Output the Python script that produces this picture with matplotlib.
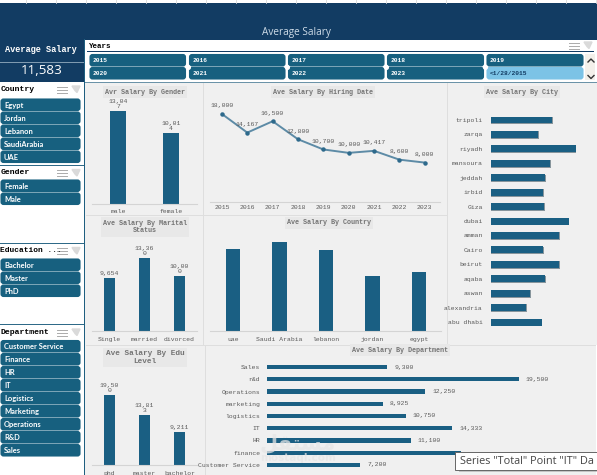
import matplotlib
matplotlib.use("Agg")
import matplotlib.pyplot as plt
from matplotlib.patches import FancyBboxPatch, Rectangle

W, H = 597, 475

years = ["2015", "2016", "2017", "2018", "2019", "2020", "2021", "2022", "2023", "<1/28/2015"]
countries = ["Egypt", "Jordan", "Lebanon", "SaudiArabia", "UAE"]
genders = ["Female", "Male"]
edu_levels = ["Bachelor", "Master", "PhD"]
departments = ["Customer Service", "Finance", "HR", "IT", "Logistics", "Marketing", "Operations", "R&D", "Sales"]

gender_names = ["male", "female"]
gender_vals = [13047, 10014]
gender_lbls = ["13,04\n7", "10,01\n4"]

hire_years = ["2015", "2016", "2017", "2018", "2019", "2020", "2021", "2022", "2023"]
hire_vals = [18000, 14167, 16500, 12800, 10700, 10000, 10417, 8600, 8000]

city_names = ["tripoli", "zarqa", "riyadh", "mansoura", "jeddah", "irbid", "Giza", "dubai", "amman",
              "Cairo", "beirut", "aqaba", "aswan", "alexandria", "abu dhabi"]
city_vals = [12080, 9300, 16730, 11700, 10700, 10300, 10500, 15350, 13500, 10300, 13500, 10700, 7700, 6900, 10000]

marital_names = ["Single", "married", "divorced"]
marital_vals = [9654, 13360, 10000]
marital_lbls = ["9,654", "13,36\n0", "10,00\n0"]

country_names = ["uae", "Saudi Arabia", "lebanon", "jordan", "egypt"]
country_vals = [12300, 13350, 12150, 8250, 8850]

edu_names = ["phd", "master", "bachelor"]
edu_vals = [19500, 13813, 9211]
edu_lbls = ["19,50\n0", "13,81\n3", "9,211"]

dept_names = ["Sales", "r&d", "Operations", "marketing", "logistics", "IT", "HR", "finance", "Customer Service"]
dept_vals = [9300, 19500, 12250, 8925, 10750, 14333, 11100, 15000, 7200]
dept_lbls = ["9,300", "19,500", "12,250", "8,925", "10,750", "14,333", "11,100", "", "7,200"]

NAVY = "#123c63"
BTN = "#17607f"
BAR = "#1a5f83"
BG = "#f0f0f0"
GRID = "#dedede"
TXT = "#5a5a5a"
MONO = "Liberation Mono"

plt.rcParams["font.family"] = "DejaVu Sans"
fig = plt.figure(figsize=(W / 100, H / 100), dpi=100, facecolor="white")

# full page layer in pixels, y going down
page = fig.add_axes([0, 0, 1, 1], zorder=0)
page.set_xlim(0, W)
page.set_ylim(H, 0)
page.axis("off")


def rect(x0, y0, x1, y1, color, z=1):
    page.add_patch(Rectangle((x0, y0), x1 - x0, y1 - y0, fc=color, ec="none", zorder=z))


def button(x0, y0, x1, y1, label, color=BTN, tc="white", family="Lato", size=5.4):
    page.add_patch(FancyBboxPatch((x0 + 1.5, y0 + 1), x1 - x0 - 3, y1 - y0 - 2, boxstyle="round,pad=0,rounding_size=2",
                                  mutation_aspect=1, fc=color, ec=color, lw=1.5, zorder=3))
    page.text(x0 + 4, (y0 + y1) / 2 + 0.3, label, color=tc, fontsize=size, family=family, va="center", ha="left",
              zorder=4, fontweight="bold")


def slicer_icons(x, y):
    for dy in (-3, 0, 3):
        page.plot([x - 3, x + 7], [y + dy, y + dy], color="#ababab", lw=0.7, zorder=3)
    page.fill([x + 12, x + 20, x + 17, x + 15], [y - 3.5, y - 3.5, y + 3, y + 1], color="#dadada", zorder=3)


def slicer_head(label, y, x=0.5, size=5.9):
    page.text(x, y, label, fontsize=size, family=MONO, fontweight="bold", color="black", va="center", zorder=4)


def chart_ax(x0, y0, x1, y1):
    ax = fig.add_axes([x0 / W, 1 - y1 / H, (x1 - x0) / W, (y1 - y0) / H], zorder=2)
    ax.patch.set_alpha(0)
    for s in ["top", "right", "left"]:
        ax.spines[s].set_visible(False)
    ax.spines["bottom"].set_color("#d4d4d4")
    ax.spines["bottom"].set_linewidth(0.8)
    ax.set_yticks([])
    ax.tick_params(axis="x", length=0, pad=4, labelsize=4.6, labelcolor=TXT)
    return ax


def chart_title(label, xc, yc, size=4.9):
    page.text(xc, yc, label, fontsize=size, family=MONO, fontweight="bold", color="#747474", ha="center", va="center",
              linespacing=1.15, zorder=4, bbox=dict(fc="#e8e8e8", ec="none", pad=1.6))


def column_chart(box, names, vals, ymax, xlim, lbls=None, width=0.32):
    ax = chart_ax(*box)
    pos = list(range(len(vals)))
    ax.bar(pos, vals, width=width, color=BAR)
    ax.set_xticks(pos, names, family=MONO)
    ax.set_ylim(0, ymax)
    ax.set_xlim(*xlim)
    if lbls:
        for p, v, l in zip(pos, vals, lbls):
            ax.annotate(l, (p, v), xytext=(0, 1.5), textcoords="offset points", ha="center", va="bottom",
                        fontsize=4.6, family=MONO, color=TXT, linespacing=1.0)
    return ax


# top strip and header
rect(0, 0, W, 3, "white")
for x in range(-4, W, 30):
    page.plot([x, x], [0, 3], color="#d8d8d8", lw=0.6, zorder=2)
rect(0, 3, W, 39.5, NAVY)
page.text(296, 33, "Average Salary", color="#cddbe7", fontsize=7.2, family="Open Sans", ha="center", va="center", zorder=3)

# kpi box
rect(0, 39, 84.5, 82, NAVY)
rect(0, 61.7, 84.5, 62.7, "#7f9ab0", 2)
rect(0, 38.5, 84.5, 39.3, "#7f9ab0", 2)
page.text(41, 49.5, "Average Salary", color="white", fontsize=6.2, family=MONO, fontweight="bold", ha="center", va="center", zorder=3)
page.text(41.5, 70, "11,583", color="white", fontsize=9.6, family="Open Sans", ha="center", va="center", zorder=3)

# years slicer
rect(85, 39.5, W, 83, "white")
rect(87, 51, W - 3, 52, NAVY, 2)
rect(84, 82, W, 83.2, "#6b93a8", 2)
rect(585, 54, 595, 80, "#f3f0ea", 2)
slicer_head("Years", 46, 89, size=5.4)
slicer_icons(572, 45.5)
year_x = [(89, 186.5), (188.5, 286), (287.5, 385), (386.5, 484.5), (486, 584)]
for i, y in enumerate(years):
    c = i % 5
    r = i // 5
    y0 = 54 + r * 13
    if y.startswith("<"):
        button(year_x[c][0], y0, year_x[c][1], y0 + 12.5, y, color="#7cc3e6", tc=NAVY, family=MONO, size=4.5)
    else:
        button(year_x[c][0], y0, year_x[c][1], y0 + 12.5, y, family=MONO, size=4.5)
for xd in (187.5, 286.7, 385.7, 485.2):
    page.plot([xd], [66.6], "o", ms=2.6, color="white", zorder=5)
page.plot([588, 591, 594], [62, 59, 62], color="#333333", lw=1.0, zorder=4)
page.plot([588, 591, 594], [75.5, 78.5, 75.5], color="#333333", lw=1.0, zorder=4)

# left slicers
rect(83.8, 39, 85, H, "#1f5f80", 5)
for label, items, ytext, ybtn in [("Country", countries, 89.5, 98.5),
                                  ("Gender", genders, 173, 179.5),
                                  ("Education ...", edu_levels, 251, 258.5),
                                  ("Department", departments, 332.5, 340)]:
    slicer_head(label, ytext, size=5.7 if label.endswith("...") else 5.9)
    slicer_icons(60, ytext)
    for i, it in enumerate(items):
        button(0, ybtn + i * 13, 81, ybtn + i * 13 + 12.5, it)
rect(0, 95.5, 81, 96.4, NAVY, 2)
for yy in (165, 243, 324):
    rect(0, yy, 84, yy + 1.2, "#2f6a88", 2)

# chart background and separators
rect(85, 83, W, H, BG)
rect(203, 83, 204, 345, GRID, 2)
rect(86, 215, 447, 216, GRID, 2)
rect(446.5, 83, 447.5, 346, GRID, 2)
rect(86, 345, W, 346, GRID, 2)
rect(204.5, 345, 205.5, H, GRID, 2)
rect(596, 345, W, H, "white", 2)

# gender
column_chart((92, 95, 197, 203.5), gender_names, gender_vals, 15330, (-0.49, 1.49), gender_lbls, width=0.3)
chart_title("Avr Salary By Gender", 145, 92)

# hiring date
ax = chart_ax(210, 95, 440, 201.5)
ax.plot(hire_years, hire_vals, color="#5d8ba6", lw=1.4, marker="o", ms=2.2, mfc="#2e6a8c", mec="#2e6a8c")
ax.set_ylim(0, 21900)
ax.set_xlim(-0.47, 8.6)
ax.tick_params(axis="x", pad=2.5)
for t in ax.get_xticklabels():
    t.set_family(MONO)
for x, v in zip(hire_years, hire_vals):
    ax.annotate(f"{v:,}", (x, v), xytext=(0, 4), textcoords="offset points", ha="center", va="bottom",
                fontsize=4.6, family=MONO, color=TXT)
chart_title("Ave Salary By Hiring Date", 323, 92)

# city, horizontal bars with a small shadow
ax = chart_ax(491, 112.8, 590, 329.3)
pos = list(range(len(city_vals)))
ax.spines["bottom"].set_visible(False)
ax.barh([p + 0.04 for p in pos], [v + 90 for v in city_vals], height=0.52, left=60, color="#4f6470", alpha=0.65)
ax.barh(pos, city_vals, height=0.48, color=BAR)
ax.set_ylim(14.5, -0.5)
ax.set_xlim(0, 19600)
ax.set_xticks([])
ax.set_yticks(pos, city_names, family=MONO)
ax.tick_params(axis="y", length=0, pad=6, labelsize=4.6, labelcolor=TXT)
chart_title("Ave Salary By City", 522, 92)

# marital status
column_chart((92, 235, 197, 331), marital_names, marital_vals, 17470, (-0.5, 2.5), marital_lbls)
chart_title("Ave Salary By Marital\nStatus", 145, 227)

# country
column_chart((210, 235, 441, 331), country_names, country_vals, 14400, (-0.495, 4.473), width=0.31)
chart_title("Ave Salary By Country", 329, 223)

# education
column_chart((92, 380, 197, 465), edu_names, edu_vals, 23680, (-0.5, 2.5), edu_lbls)
chart_title("Ave Salary By Edu\nLevel", 145, 357.6, size=5.6)

# department
ax = chart_ax(267.3, 361, 590, 471)
pos = list(range(len(dept_vals)))
ax.spines["bottom"].set_visible(False)
ax.barh(pos, dept_vals, height=0.34, color=BAR)
ax.set_ylim(8.5, -0.5)
ax.set_xlim(0, 25000)
ax.set_xticks([])
ax.set_yticks(pos, dept_names, family=MONO)
ax.tick_params(axis="y", length=0, pad=5, labelsize=4.6, labelcolor=TXT)
for p, v, l in zip(pos, dept_vals, dept_lbls):
    ax.annotate(l, (v, p), xytext=(5, 0), textcoords="offset points", va="center", fontsize=4.6,
                family=MONO, color=TXT)
chart_title("Ave Salary By Department", 400, 350)

# watermark and tooltip
over = fig.add_axes([0, 0, 1, 1], zorder=10)
over.set_xlim(0, W)
over.set_ylim(H, 0)
over.axis("off")
# presentation forms in drawing order, matplotlib does not shape arabic
over.text(298, 443, "\ufede\ufed8\ufe98\ufeb4\ufee3", fontsize=15, color="#e6e6e6", ha="center", va="center",
          family="DejaVu Sans", fontweight="bold", alpha=0.75)
over.text(298, 458, "mostaql.com", fontsize=7.5, color="#e6e6e6", ha="center", va="center", fontweight="bold", alpha=0.75)
over.add_patch(Rectangle((459, 453), 140, 19, fc="#9a9a9a", ec="none", alpha=0.5))
over.add_patch(Rectangle((455, 451.5), 144, 18.5, fc="white", ec="#666666", lw=0.7))
over.text(460, 461, "Series \"Total\" Point \"IT\" Da", fontsize=7.8, color="#444444", family="Open Sans", va="center")

fig.savefig("out.png", dpi=100)
plt.close()
